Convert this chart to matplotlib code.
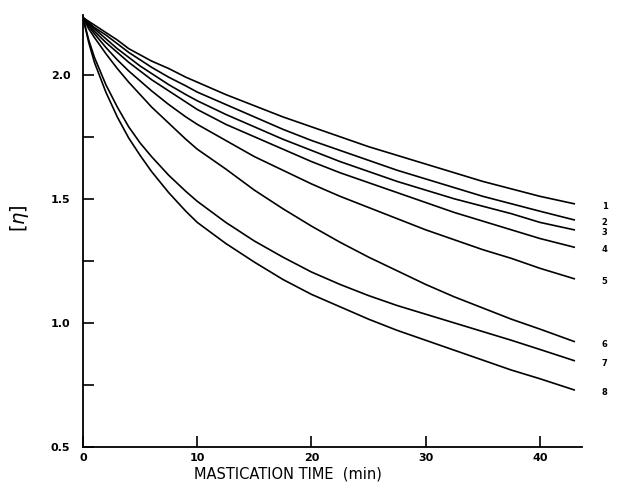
import matplotlib.pyplot as plt

# mastication time (min)
time = [0, 0.5, 1, 2, 3, 4, 5, 6, 7.5, 9, 10, 12.5, 15, 17.5, 20,
        22.5, 25, 27.5, 30, 32.5, 35, 37.5, 40, 43]

# intrinsic viscosity [eta], curves 1..8
eta_1 = [2.23, 2.215, 2.20, 2.17, 2.14, 2.105, 2.08, 2.055, 2.025, 1.99, 1.97, 1.92,
         1.875, 1.83, 1.79, 1.75, 1.71, 1.675, 1.64, 1.605, 1.57, 1.54, 1.51, 1.48]
eta_2 = [2.23, 2.21, 2.19, 2.16, 2.125, 2.09, 2.06, 2.03, 1.99, 1.955, 1.93, 1.88,
         1.83, 1.78, 1.735, 1.695, 1.655, 1.615, 1.58, 1.545, 1.51, 1.48, 1.45, 1.415]
eta_3 = [2.23, 2.205, 2.185, 2.145, 2.105, 2.07, 2.035, 2.005, 1.96, 1.92, 1.895, 1.84,
         1.79, 1.74, 1.695, 1.65, 1.61, 1.57, 1.535, 1.50, 1.47, 1.44, 1.405, 1.375]
eta_4 = [2.23, 2.20, 2.175, 2.13, 2.09, 2.05, 2.015, 1.98, 1.935, 1.89, 1.86, 1.80,
         1.75, 1.70, 1.65, 1.605, 1.565, 1.525, 1.485, 1.445, 1.41, 1.375, 1.34, 1.305]
eta_5 = [2.23, 2.195, 2.165, 2.11, 2.06, 2.015, 1.975, 1.935, 1.88, 1.83, 1.80, 1.735,
         1.67, 1.615, 1.56, 1.51, 1.465, 1.42, 1.375, 1.335, 1.295, 1.26, 1.22, 1.178]
eta_6 = [2.23, 2.185, 2.15, 2.085, 2.025, 1.97, 1.92, 1.87, 1.805, 1.74, 1.70, 1.62,
         1.535, 1.46, 1.39, 1.325, 1.265, 1.21, 1.155, 1.105, 1.06, 1.015, 0.975, 0.925]
eta_7 = [2.23, 2.14, 2.07, 1.96, 1.87, 1.79, 1.725, 1.67, 1.595, 1.53, 1.49, 1.405,
         1.33, 1.265, 1.205, 1.155, 1.11, 1.07, 1.035, 1.00, 0.965, 0.93, 0.893, 0.848]
eta_8 = [2.23, 2.13, 2.05, 1.93, 1.83, 1.745, 1.675, 1.61, 1.525, 1.45, 1.405, 1.32,
         1.245, 1.175, 1.115, 1.065, 1.015, 0.97, 0.93, 0.89, 0.85, 0.81, 0.775, 0.73]

curves = [eta_1, eta_2, eta_3, eta_4, eta_5, eta_6, eta_7, eta_8]
curve_labels = ["1", "2", "3", "4", "5", "6", "7", "8"]

fig = plt.figure(figsize=(6.24, 4.88), dpi=100)
ax = fig.add_axes([0.133, 0.084, 0.80, 0.885])

for vals, lab in zip(curves, curve_labels):
    ax.plot(time, vals, color="black", lw=1.2)
    ax.annotate(lab, (time[-1], vals[-1]), xytext=(22, -2), textcoords="offset points",
                fontsize=6, fontweight="bold", ha="center", va="center")

ax.set_xlim(0, 43.7)
ax.set_ylim(0.5, 2.24)
ax.set_xticks([0, 10, 20, 30, 40])
ax.set_yticks([0.5, 1.0, 1.5, 2.0])
ax.set_yticks([0.75, 1.25, 1.75], minor=True)
ax.set_yticklabels(["0.5", "1.0", "1.5", "2.0"])

ax.spines["top"].set_visible(False)
ax.spines["right"].set_visible(False)
ax.spines["left"].set_linewidth(1.3)
ax.spines["bottom"].set_linewidth(1.3)
ax.tick_params(direction="in", length=8, width=1.2, labelsize=8)
ax.tick_params(axis="x", pad=4)
ax.tick_params(axis="y", pad=9)
ax.tick_params(axis="y", which="minor", direction="in", length=8, width=1.2)
for t in ax.get_xticklabels() + ax.get_yticklabels():
    t.set_fontweight("bold")

ax.set_xlabel("MASTICATION TIME  (min)", fontsize=10.5, labelpad=2)
ax.xaxis.set_label_coords(0.41, -0.045)
ax.set_ylabel(r"$[\eta]$", fontsize=14)
ax.yaxis.set_label_coords(-0.105, 0.53)

fig.savefig("out.png", dpi=100)
